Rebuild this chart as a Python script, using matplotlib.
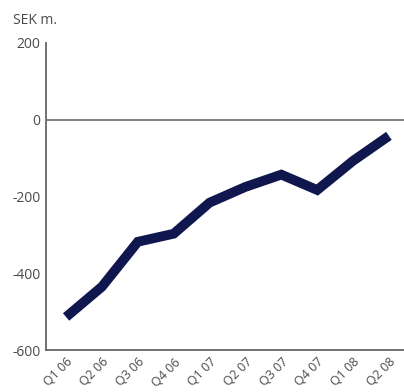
import matplotlib.pyplot as plt

quarters = ["Q1 06", "Q2 06", "Q3 06", "Q4 06", "Q1 07",
            "Q2 07", "Q3 07", "Q4 07", "Q1 08", "Q2 08"]
result = [-514, -435, -318, -297, -216, -175, -143, -183, -107, -42]
y_ticks = [200, 0, -200, -400, -600]

plt.rcParams['font.family'] = ['Open Sans', 'DejaVu Sans']
text_color = '#4a4a4a'

fig = plt.figure(figsize=(4.04, 3.92), dpi=100)
ax = fig.add_axes([46 / 404, 1 - 350 / 392, 1 - 46 / 404, (350 - 43) / 392])

x = range(len(quarters))
ax.plot(x, result, color='#10174f', linewidth=7, solid_capstyle='butt',
        solid_joinstyle='miter')
ax.axhline(0, color='#777777', linewidth=1.3)

ax.set_xlim(-0.56, 9.42)
ax.set_ylim(-600, 200)
ax.set_yticks(y_ticks)
ax.set_yticklabels([str(v) for v in y_ticks], fontsize=10)
ax.set_xticks(list(x))
ax.set_xticklabels(quarters, rotation=45, ha='right', rotation_mode='anchor',
                   fontsize=9)
ax.tick_params(length=0, colors=text_color)
ax.tick_params(axis='x', pad=4)
ax.tick_params(axis='y', pad=4)

for side in ['top', 'right']:
    ax.spines[side].set_visible(False)
for side in ['left', 'bottom']:
    ax.spines[side].set_color('#666666')
    ax.spines[side].set_linewidth(1.3)

fig.text(13 / 404, 1 - 20 / 392, "SEK m.", fontsize=10, color=text_color,
         va='center', ha='left')

fig.savefig("out.png", dpi=100)
